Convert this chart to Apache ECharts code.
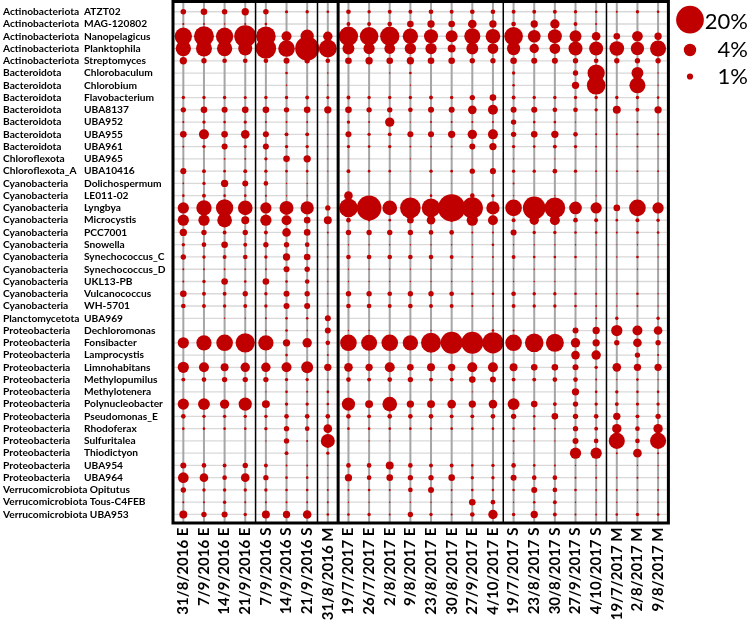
<!DOCTYPE html>
<html><head><meta charset="utf-8">
<script src="https://cdn.jsdelivr.net/npm/echarts@6/dist/echarts.min.js"></script>
<style>html,body{margin:0;padding:0;background:#fff}#c{width:749px;height:623px}</style>
</head><body><div id="c"></div>
<script>
// ---------- DATA ----------
const phyla = ['Actinobacteriota','Actinobacteriota','Actinobacteriota','Actinobacteriota','Actinobacteriota',
 'Bacteroidota','Bacteroidota','Bacteroidota','Bacteroidota','Bacteroidota','Bacteroidota','Bacteroidota',
 'Chloroflexota','Chloroflexota_A',
 'Cyanobacteria','Cyanobacteria','Cyanobacteria','Cyanobacteria','Cyanobacteria','Cyanobacteria','Cyanobacteria','Cyanobacteria','Cyanobacteria','Cyanobacteria','Cyanobacteria',
 'Planctomycetota',
 'Proteobacteria','Proteobacteria','Proteobacteria','Proteobacteria','Proteobacteria','Proteobacteria','Proteobacteria','Proteobacteria','Proteobacteria','Proteobacteria','Proteobacteria','Proteobacteria','Proteobacteria',
 'Verrucomicrobiota','Verrucomicrobiota','Verrucomicrobiota'];
const genera = ['ATZT02','MAG-120802','Nanopelagicus','Planktophila','Streptomyces',
 'Chlorobaculum','Chlorobium','Flavobacterium','UBA8137','UBA952','UBA955','UBA961',
 'UBA965','UBA10416',
 'Dolichospermum','LE011-02','Lyngbya','Microcystis','PCC7001','Snowella','Synechococcus_C','Synechococcus_D','UKL13-PB','Vulcanococcus','WH-5701',
 'UBA969',
 'Dechloromonas','Fonsibacter','Lamprocystis','Limnohabitans','Methylopumilus','Methylotenera','Polynucleobacter','Pseudomonas_E','Rhodoferax','Sulfuritalea','Thiodictyon','UBA954','UBA964',
 'Opitutus','Tous-C4FEB','UBA953'];
const samples = ['31/8/2016 E','7/9/2016 E','14/9/2016 E','21/9/2016 E','7/9/2016 S','14/9/2016 S','21/9/2016 S','31/8/2016 M',
 '19/7/2017 E','26/7/2017 E','2/8/2017 E','9/8/2017 E','23/8/2017 E','30/8/2017 E','27/9/2017 E','4/10/2017 E',
 '19/7/2017 S','23/8/2017 S','30/8/2017 S','27/9/2017 S','4/10/2017 S','19/7/2017 M','2/8/2017 M','9/8/2017 M'];
// sample groups (left to right); the 2016/2017 boundary is drawn thick
const groupSizes = [4,3,1,8,5,3];
const yearBoundaryAfterGroup = 2;
const legendValues = [20,4,1];
const legendLabels = ['20%','4%','1%'];
// relative abundance (%) : one row per taxon, one value per sample
const abundance = [
 [0.8,1.15,0.8,1.4,0.8,0.25,0.3,0.18, 0.57,0.3,0.4,0.4,0.57,0.4,0.57,0.57, 0.4,0.4,0.4,0.3,0.18,0.1,0.3,0.18],
 [0.1,0.1,0.05,0.1,0.18,0,0,0, 0.4,0.4,0.57,1.15,1.4,1.15,1.95,1.4, 0.57,1.4,2.3,0.4,0.1,0,0,0],
 [7.8,10.4,7.8,12.6,10,2.6,4.6,2.3, 9.7,9,9.7,6.1,5.1,3.7,6.7,5.6, 9,4.2,5.1,3.7,1.95,1.15,3,1.4],
 [6.1,6.7,6.1,5.1,11,7.2,15,8.4, 3.7,3.3,3,3.3,3.3,1.65,3.7,3, 4.6,2.3,3,5.1,5.1,5.6,4.6,6.7],
 [1.4,0.75,0.57,0.57,0.57,0.95,0.75,0.57, 1.15,1.4,1.15,1.4,1.15,1.15,0.75,0.75, 1.15,0.95,0.95,0.75,0.57,0.75,0.75,0.75],
 [0,0,0,0,0,0.18,0,0.07, 0,0,0.05,0.18,0,0,0,0, 0.3,0,0,0.75,7.8,0,3.7,0.05],
 [0,0,0,0,0,0.07,0,0.07, 0,0,0,0.05,0,0,0,0, 0.18,0,0,1.4,9,0,6.7,0.05],
 [0.3,0.3,0.3,0.25,0.3,0.3,0.4,0.25, 0.4,0.3,0.3,0.3,0.4,0.3,0.75,1.15, 0.4,0.3,0.3,0.3,0.3,0.3,0.3,0.18],
 [0.75,1.15,0.95,1.15,1.15,0.75,1.15,1.4, 1.15,0.75,0.75,0.57,0.95,0.95,1.95,2.6, 0.95,0.95,0.57,0.57,0.3,1.65,0.4,1.4],
 [0.1,0.3,0.18,0.3,0.1,0.1,0.1,0.05, 0.3,0.1,2.3,0.05,0.1,0.1,0.1,0.1, 0.75,0.18,0.18,0.05,0.05,0.05,0.1,0.05],
 [1.15,2.6,1.15,1.95,0.95,0.4,0.4,0.05, 0.95,0.3,0.4,0.95,0.95,1.4,2.3,2.6, 0.75,1.15,1.4,0.57,0.1,0.1,0.1,0.1],
 [0.1,0.3,0.95,0.3,0.95,0.3,0.3,0.05, 0.3,0.18,0.3,0.1,0.1,0.1,0.95,1.4, 0.3,0.18,0.4,0.3,0.1,0.05,0.1,0.05],
 [0.02,0.02,0.1,0.1,0.3,1.15,1.4,0.05, 0.02,0.02,0.02,0.05,0.02,0.02,0.02,0.02, 0.05,0.02,0.05,0.02,0.02,0.02,0.02,0.02],
 [0.95,0.4,0.18,0.4,0.3,0.18,0.18,0.05, 0.4,0.18,0.18,0.05,0.3,0.18,0.75,0.95, 0.3,0.3,0.57,0.3,0.1,0.1,0.1,0.1],
 [0.07,0.3,1.4,0.95,0.57,0.05,0.05,0, 0.02,0.02,0.02,0.02,0.02,0.02,0.02,0.02, 0.1,0,0,0.02,0.02,0,0,0],
 [0.18,0.4,0.18,0.18,0.1,0.05,0.05,0, 1.95,0,0,0,0.18,0,0.57,0.3, 0.05,0,0.05,0,0.05,0,0,0],
 [3.3,6.1,7.8,5.6,3.3,5.1,4.6,0.75, 9,15.8,5.6,11.1,9,19.4,11.8,4.6, 7.2,13.4,11.1,4.2,3.3,1.15,7.2,3.3],
 [3.3,3.3,5.6,1.65,3.3,2.6,1.15,1.65, 0.57,0.18,0.18,1.15,1.95,0.3,3.3,2.6, 0.4,2.3,2.6,0.57,0.4,0.18,0.4,0.3],
 [1.4,0.75,0.4,0.75,0.4,1.95,1.15,0.1, 0.75,0.75,0.75,0.75,0.57,0.57,0.1,0.1, 0.95,0.3,0.3,0.18,0.18,0.1,0.18,0.18],
 [0.3,0.57,1.15,0.4,0.75,0.75,0.57,0.05, 0.05,0.05,0.05,0.05,0.05,0.05,0.05,0.18, 0.05,0.05,0.05,0.05,0.05,0.02,0.05,0.05],
 [0.75,0.3,0.4,0.57,0.3,1.4,1.15,0.05, 0.57,0.57,0.57,0.57,0.57,0.4,0.1,0.1, 0.4,0.18,0.18,0.18,0.05,0.05,0.18,0.05],
 [0.1,0.1,0.1,0.1,0.1,0.95,0.75,0.05, 0.05,0.05,0.05,0.05,0.05,0.05,0.05,0.05, 0.05,0.05,0.05,0.05,0.05,0.02,0.05,0.02],
 [0.1,0.3,1.15,0.18,1.15,0.18,0.57,0.05, 0.05,0.05,0.05,0.05,0.05,0.05,0.05,0.05, 0.05,0.05,0.05,0.02,0.02,0.02,0.02,0.02],
 [1.15,0.4,0.4,0.75,0.3,0.95,0.75,0.05, 0.75,0.75,0.57,0.75,0.75,0.57,0.18,0.18, 0.57,0.3,0.3,0.18,0.1,0.05,0.18,0.05],
 [0.57,0.4,0.3,0.4,0.3,0.95,0.95,0.05, 0.57,0.57,0.4,0.57,0.4,0.4,0.1,0.1, 0.4,0.3,0.3,0.18,0.1,0.05,0.1,0.05],
 [0,0,0.05,0.05,0.1,0.18,0.18,0.95, 0,0,0,0,0,0,0,0.05, 0,0,0,0,0.1,0.3,0,0.3],
 [0,0,0,0.02,0.05,0.18,0.05,0.95, 0.05,0.05,0,0,0.05,0,0,0.18, 0.1,0,0,0.95,1.4,3.3,2.6,1.95],
 [3.3,6.1,7.2,9.7,6.1,1.4,2.3,0.57, 7.2,6.7,7.2,6.1,10.4,12.6,12.6,11.8, 7.2,9,8.4,2.3,1.4,0.75,1.95,0.75],
 [0,0,0,0,0,0.18,0,0.1, 0,0,0,0,0,0,0,0, 0,0,0,1.95,2.3,0,0.75,0.1],
 [3.3,2.6,1.65,2.3,2.3,2.6,3.7,1.4, 1.95,1.4,2.6,1.15,1.65,1.4,2.6,2.6, 1.65,1.15,1.15,0.95,0.3,1.95,1.4,1.4],
 [0.4,0.57,0.75,0.75,0.75,0.3,0.3,0.05, 0.57,0.4,0.57,0.75,0.4,0.4,1.15,0.95, 0.4,0.4,0.57,0.57,0.1,0.05,0.18,0.05],
 [0,0,0,0,0.05,0.18,0.1,0.18, 0,0,0,0,0,0,0.05,0.05, 0.05,0,0,1.4,0.18,0.3,0.18,0.18],
 [3.3,3.7,2.3,4.6,1.65,0.3,0.3,0.18, 4.6,1.65,5.6,1.4,1.65,1.95,1.4,1.95, 3.7,1.15,0.4,0.75,0.3,0.4,0.3,0.3],
 [0.57,0.3,0.3,0.3,0.3,0.57,0.57,0.57, 0.57,0.4,0.57,0.57,0.57,0.4,0.4,0.57, 0.75,0.18,1.15,0.75,0.57,1.4,0.4,0.75],
 [0.18,0.18,0.18,0.18,0.3,0.75,0.57,1.95, 0.18,0.18,0.18,0.18,0.18,0.18,0.18,0.18, 0.18,0.18,0.1,0.75,0.4,2.3,0.57,2.3],
 [0,0,0,0,0.05,0.75,0.1,5.1, 0,0.05,0.05,0,0,0,0,0, 0.1,0.05,0.05,0.95,0.57,6.7,0.57,6.7],
 [0,0,0,0,0,0.4,0,0.3, 0,0,0,0,0,0,0,0, 0.05,0,0,3.3,3.3,0.1,1.95,0.1],
 [0.95,0.57,0.4,0.75,0.4,0.1,0.1,0.05, 0.57,0.57,1.65,0.57,0.4,0.4,0.18,0.3, 0.57,0.18,0.1,0.05,0.05,0,0.05,0.05],
 [3,1.95,0.57,1.95,0.75,0.18,0.18,0.05, 1.4,0.57,1.15,0.75,0.75,1.15,0.3,0.3, 0.95,0.57,0.57,0.1,0.1,0.05,0.1,0.05],
 [0.75,0.3,0.3,0.3,0.3,0.18,0.18,0.1, 0.1,0.18,0.1,0.57,0.95,0.1,0.18,0.18, 0.18,0.95,0.57,0.18,0.1,0.1,0.1,0.1],
 [0.1,0.1,0.3,0.1,0.1,0.1,0.1,0.1, 0.05,0.05,0.05,0.05,0.05,0.05,1.15,0.57, 0.05,0.18,0.4,0.05,0.05,0.05,0.05,0.05],
 [1.65,0.75,0.95,0.3,1.65,1.4,1.95,0.18, 0.18,0.3,0.1,0.75,0.3,0.1,0.57,2.3, 0.3,1.4,0.4,0.1,0.1,0.18,0.3,0.18]
];

// ---------- CHART ----------
(function () {
const RED = '#c00000';
const sizeOf = v => 6.2 * Math.sqrt(v);   // bubble area proportional to abundance
const taxa = phyla.map((p, i) => p + '|' + genera[i]);
const points = [];
abundance.forEach((row, r) => row.forEach((v, c) => { if (v > 0) points.push([c, r, v]); }));

const chart = echarts.init(document.getElementById('c'), null, {renderer: 'canvas'});
const LF = 'Lato';
const LS = 10.2;
const lab = { fontFamily: LF, fontWeight: 'bold', fontSize: LS, color: '#000' };
const option = {
  animation: false,
  backgroundColor: '#fff',
  grid: { left: 173, right: 80.6, top: 5.6, bottom: 102.4, containLabel: false, outerBoundsMode: 'none' },
  xAxis: {
    type: 'category', data: samples, boundaryGap: true,
    axisLine: {show: false}, axisTick: {show: false}, splitLine: {show: false},
    axisLabel: { rotate: 90, margin: 7, interval: 0, color: '#000', fontFamily: LF, fontWeight: 'bold', fontSize: 15 }
  },
  yAxis: {
    type: 'category', data: taxa, inverse: true, boundaryGap: true,
    axisLine: {show: false}, axisTick: {show: false}, splitLine: {show: false},
    axisLabel: Object.assign({
      interval: 0, align: 'left', margin: 170,
      formatter: val => {
        const [p, g] = val.split('|');
        return p.length >= 17 ? '{pl|' + p + ' }{g|' + g + '}' : '{p|' + p + '}{g|' + g + '}';
      },
      rich: { p: Object.assign({ width: 81 }, lab), pl: lab, g: lab }
    }, lab)
  },
  series: [{
    type: 'scatter', data: points, z: 5,
    symbol: 'circle',
    symbolSize: d => sizeOf(d[2]),
    itemStyle: { color: RED, opacity: 1 },
    emphasis: { disabled: true }, silent: true
  }]
};
chart.setOption(option);

// lines & frame positioned from the axis scales
const xs = samples.map((s, i) => chart.convertToPixel({xAxisIndex: 0}, i));
const ys = taxa.map((t, i) => chart.convertToPixel({yAxisIndex: 0}, i));
const cw = xs[1] - xs[0];
const frameL = xs[0] - cw / 2, frameR = xs[xs.length - 1] + cw / 2;
const frameT = 1.5, frameB = 523;
const g = [];
ys.forEach(y => g.push({ type: 'line', z: 1, silent: true,
  shape: {x1: frameL, y1: y, x2: frameR, y2: y}, style: {stroke: '#d9d9d9', lineWidth: 1.3} }));
xs.forEach(x => g.push({ type: 'line', z: 2, silent: true,
  shape: {x1: x, y1: frameT, x2: x, y2: frameB}, style: {stroke: '#a6a6a6', lineWidth: 2} }));
let cum = 0;
groupSizes.slice(0, -1).forEach((n, gi) => {
  cum += n;
  const x = (xs[cum - 1] + xs[cum]) / 2;
  g.push({ type: 'line', z: 20, silent: true,
    shape: {x1: x, y1: frameT, x2: x, y2: frameB},
    style: {stroke: '#000', lineWidth: gi === yearBoundaryAfterGroup ? 3 : 1.5} });
});
g.push({ type: 'rect', z: 21, silent: true,
  shape: {x: frameL, y: frameT, width: frameR - frameL, height: frameB - frameT},
  style: {fill: 'none', stroke: '#000', lineWidth: 3} });
// size legend
const legY = [19.7, 50, 76.5];
const legTextY = [22, 50, 77];
legendValues.forEach((v, i) => {
  g.push({ type: 'circle', z: 22, silent: true,
    shape: {cx: 690, cy: legY[i], r: sizeOf(v) / 2}, style: {fill: RED} });
  g.push({ type: 'text', z: 22, silent: true, x: 748, y: legTextY[i],
    style: {text: legendLabels[i], fill: '#000', font: '22px Lato', textAlign: 'right', textVerticalAlign: 'middle'} });
});
chart.setOption({ graphic: { elements: g } });
})();
</script>
</body></html>
